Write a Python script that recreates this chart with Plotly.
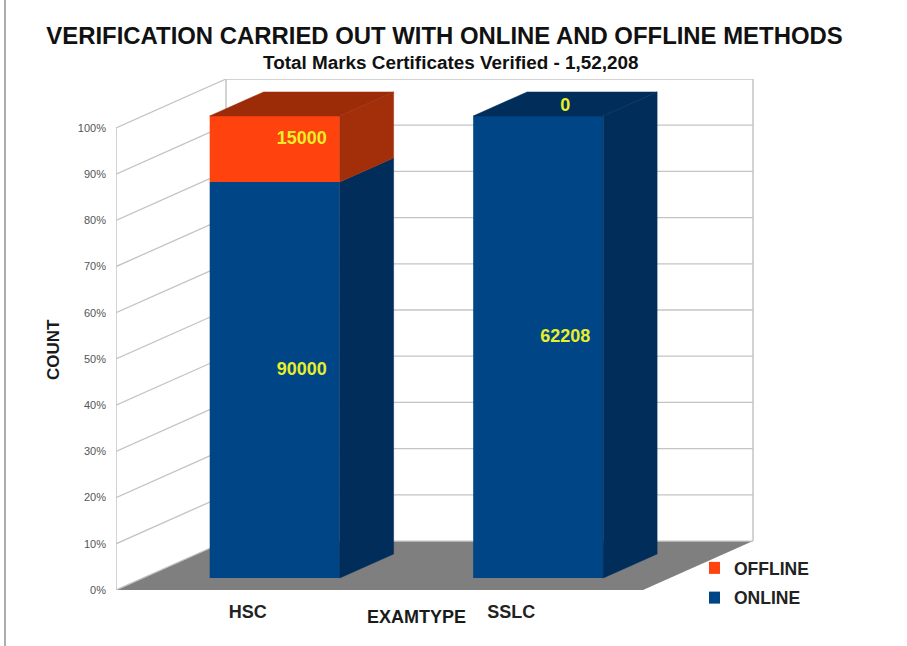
import plotly.graph_objects as go

categories = ["HSC", "SSLC"]
online = [90000, 62208]
offline = [15000, 0]
y_ticks = [0, 10, 20, 30, 40, 50, 60, 70, 80, 90, 100]
title = "VERIFICATION CARRIED OUT WITH ONLINE AND OFFLINE METHODS"
subtitle = "Total Marks Certificates Verified - 1,52,208"

W, H = 907, 646
DX, DY = 0.4175, 10.6      # oblique offset of the full chart depth
D_FRONT, D_BACK = 0.245, 0.735
D_MID = (D_FRONT + D_BACK) / 2
BAR_W = 0.4934
LABEL_NUDGE = 0.65
FONT = "Liberation Sans"
GRID = "#c4c4c4"
BLUE, BLUE_S = "#004586", "#012d5a"
RED, RED_S, RED_T = "#ff420e", "#a32e0a", "#9c2c08"
TXT = "#e8ef2a"

fig = go.Figure()
totals = [a + b for a, b in zip(online, offline)]
p_on = [100 * a / t for a, t in zip(online, totals)]
p_off = [100 * b / t for b, t in zip(offline, totals)]
n = len(categories)


def pt(x, y, d):
    return x + d * DX, y + d * DY


def poly(corners, color):
    xs, ys = zip(*corners)
    fig.add_trace(go.Scatter(x=list(xs) + [xs[0]], y=list(ys) + [ys[0]], mode="lines", fill="toself",
                             fillcolor=color, line=dict(color=color, width=0.5),
                             showlegend=False, hoverinfo="skip"))


# front faces
fig.add_trace(go.Bar(name="OFFLINE", legendgroup="off", x=[i + D_FRONT * DX for i in range(n)], y=p_off,
                     base=[D_FRONT * DY + v for v in p_on], width=BAR_W,
                     marker=dict(color=RED, line=dict(width=0))))
fig.add_trace(go.Bar(name="ONLINE", legendgroup="on", x=[i + D_FRONT * DX for i in range(n)], y=p_on,
                     base=[D_FRONT * DY] * n, width=BAR_W,
                     marker=dict(color=BLUE, line=dict(width=0))))

# side and top faces
for i in range(n):
    xl, xr = i - BAR_W / 2, i + BAR_W / 2
    lo, mid, hi = 0, p_on[i], p_on[i] + p_off[i]
    poly([pt(xr, lo, D_FRONT), pt(xr, mid, D_FRONT), pt(xr, mid, D_BACK), pt(xr, lo, D_BACK)], BLUE_S)
    if p_off[i] > 0:
        poly([pt(xr, mid, D_FRONT), pt(xr, hi, D_FRONT), pt(xr, hi, D_BACK), pt(xr, mid, D_BACK)], RED_S)
    top = RED_T if p_off[i] > 0 else BLUE_S
    poly([pt(xl, hi, D_FRONT), pt(xr, hi, D_FRONT), pt(xr, hi, D_BACK), pt(xl, hi, D_BACK)], top)

# value labels at the centre of each box
lx, ly, lt = [], [], []
for i in range(n):
    for start, p, v in ((0, p_on[i], online[i]), (p_on[i], p_off[i], offline[i])):
        cx, cy = pt(i, start + p / 2 - LABEL_NUDGE, D_MID)
        lx.append(cx); ly.append(cy); lt.append(str(v))
fig.add_trace(go.Scatter(x=lx, y=ly, text=lt, mode="text", showlegend=False, hoverinfo="skip",
                         textfont=dict(family=FONT, size=18, color=TXT, weight="bold")))

# walls, floor and oblique gridlines
x0, x1 = -0.5, n - 0.5
shapes = [dict(type="path", layer="below", xref="x", yref="y", fillcolor="#7f7f7f", line=dict(width=0),
               path=f"M{x0},0 L{x0 + DX},{DY} L{x1 + DX},{DY} L{x1},0 Z")]
for v in y_ticks:
    shapes.append(dict(type="line", layer="below", xref="x", yref="y", x0=x0, y0=v, x1=x0 + DX, y1=v + DY,
                       line=dict(color=GRID, width=1.3)))
    shapes.append(dict(type="line", layer="below", xref="x", yref="y", x0=x0 + DX, y0=v + DY, x1=x1 + DX, y1=v + DY,
                       line=dict(color=GRID, width=1.3)))
for xv, yoff in ((x0, 0), (x0 + DX, DY), (x1 + DX, DY)):
    shapes.append(dict(type="line", layer="below", xref="x", yref="y", x0=xv, y0=yoff, x1=xv, y1=100 + yoff,
                       line=dict(color=GRID, width=1.5)))
# picture frame of the source screenshot
shapes.append(dict(type="line", xref="paper", yref="paper", x0=5 / W, x1=5 / W, y0=0, y1=1,
                   line=dict(color="#adadad", width=2)))

fig.update_layout(
    width=W, height=H, margin=dict(l=0, r=0, t=0, b=0, autoexpand=False), paper_bgcolor="white",
    plot_bgcolor="rgba(0,0,0,0)", barmode="overlay", shapes=shapes,
    font=dict(family=FONT, color="#1a1a1a"),
    title=dict(text=f"<b>{title}</b>", x=444.5 / W, xanchor="center", y=1 - 36 / H, yanchor="middle",
               automargin=False, font=dict(size=23.9, family=FONT, color="#111111")),
    xaxis=dict(domain=[116 / W, 755 / W], range=[x0, x0 + 639 / 263.5], tickmode="array", automargin=False,
               tickvals=list(range(n)), ticktext=[f"<b>{c}</b>" for c in categories], showgrid=False, zeroline=False,
               showline=False, ticks="", ticklabelstandoff=9, tickfont=dict(size=18, color="#222222")),
    yaxis=dict(domain=[(H - 590) / H, (H - 79) / H], range=[0, 100 + DY], tickmode="array", tickvals=y_ticks,
               automargin=False, ticktext=[f"{v}%" for v in y_ticks], showgrid=False, zeroline=False, showline=False,
               ticks="", ticklabelstandoff=9, tickfont=dict(size=11, color="#555555")),
    legend=dict(x=709 / W, y=1 - 550 / H, xanchor="left", yanchor="top", traceorder="grouped",
                indentation=-15, tracegroupgap=4,
                font=dict(size=17.5, color="#222222", weight="bold"), bgcolor="rgba(0,0,0,0)"),
    annotations=[
        dict(text=f"<b>{subtitle}</b>", xref="paper", yref="paper", x=451 / W, y=1 - 62 / H, showarrow=False,
             xanchor="center", yanchor="middle", font=dict(size=18.9, color="#111111")),
        dict(text="<b>EXAMTYPE</b>", xref="paper", yref="paper", x=416 / W, y=1 - 617 / H, showarrow=False,
             xanchor="center", yanchor="middle", font=dict(size=18, color="#1a1a1a")),
        dict(text="<b>COUNT</b>", xref="paper", yref="paper", x=53 / W, y=1 - 350 / H, showarrow=False,
             xanchor="center", yanchor="middle", textangle=-90, font=dict(size=17, color="#1a1a1a")),
    ],
)
fig.write_html("out.html", config=dict(displayModeBar=False),
               post_script="document.body.style.margin='0';document.documentElement.style.overflow='hidden';")
